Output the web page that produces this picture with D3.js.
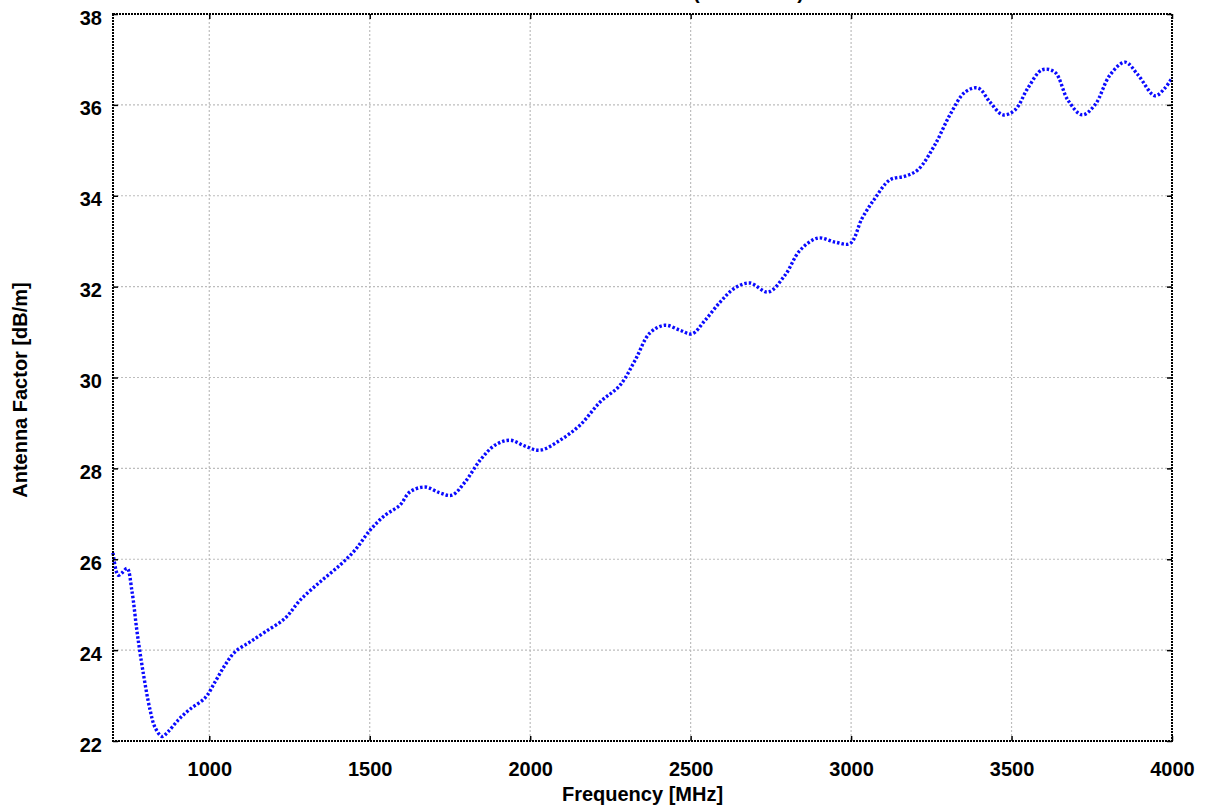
<!DOCTYPE html>
<html>
<head>
<meta charset="utf-8">
<style>
  body { margin: 0; background: #fff; }
  svg text { font-family: "Liberation Sans", Arial, sans-serif; font-weight: bold; fill: #000; }
  .grid line { stroke: #bdbdbd; stroke-width: 1.2; stroke-dasharray: 2,2; }
</style>
</head>
<body>
<svg width="1207" height="807"></svg>
<script src="https://d3js.org/d3.v7.min.js"></script>
<script>
// frequency [MHz] and antenna factor [dB/m]
var freq = [700, 716, 728, 744, 759, 775, 793, 815, 831, 853, 871, 903, 940, 987, 1018, 1049, 1080, 1127,
  1174, 1236, 1283, 1345, 1407, 1454, 1501, 1548, 1594, 1625, 1672, 1719, 1756, 1797, 1844, 1890, 1937,
  1984, 2031, 2093, 2155, 2218, 2280, 2327, 2373, 2420, 2467, 2504, 2545, 2592, 2638, 2685, 2741, 2794,
  2841, 2897, 2950, 2997, 3034, 3075, 3121, 3168, 3208, 3261, 3308, 3355, 3396, 3433, 3473, 3511, 3551,
  3595, 3635, 3676, 3720, 3760, 3807, 3854, 3894, 3947, 3978, 4000];
var af = [26.14, 25.65, 25.7, 25.8, 25.3, 24.4, 23.55, 22.7, 22.3, 22.1, 22.2, 22.46, 22.7, 22.95, 23.3,
  23.67, 23.96, 24.18, 24.4, 24.7, 25.1, 25.5, 25.87, 26.2, 26.64, 26.97, 27.19, 27.48, 27.59, 27.46,
  27.41, 27.7, 28.18, 28.51, 28.62, 28.49, 28.4, 28.62, 28.95, 29.46, 29.83, 30.38, 30.98, 31.15, 31.04,
  30.96, 31.26, 31.66, 31.97, 32.08, 31.88, 32.25, 32.8, 33.07, 32.98, 32.95, 33.5, 33.95, 34.35, 34.43,
  34.57, 35.12, 35.78, 36.28, 36.37, 36.06, 35.78, 35.89, 36.37, 36.77, 36.72, 36.1, 35.78, 36.0, 36.66,
  36.94, 36.66, 36.2, 36.37, 36.59];
var xTicks = [1000, 1500, 2000, 2500, 3000, 3500, 4000];
var yTicks = [22, 24, 26, 28, 30, 32, 34, 36, 38];

var svg = d3.select("svg"),
    margin = {top: 14, right: 35, bottom: 66, left: 113},
    width = 1207 - margin.left - margin.right,
    height = 807 - margin.top - margin.bottom,
    g = svg.append("g").attr("transform", "translate(" + margin.left + "," + margin.top + ")");

var x = d3.scaleLinear().domain([700, 4000]).range([0, width]);
var y = d3.scaleLinear().domain([22, 38]).range([height, 0]);

// grid
g.append("g").attr("class", "grid")
  .selectAll("line").data(xTicks.slice(0, -1)).enter().append("line")
  .attr("x1", d => x(d)).attr("x2", d => x(d)).attr("y1", 0).attr("y2", height);
g.append("g").attr("class", "grid")
  .selectAll("line").data(yTicks.slice(1, -1)).enter().append("line")
  .attr("x1", 0).attr("x2", width).attr("y1", d => y(d)).attr("y2", d => y(d));

// curve
var data = freq.map((f, i) => [f, af[i]]);
var line = d3.line().x(d => x(d[0])).y(d => y(d[1])).curve(d3.curveCatmullRom);
g.append("path").datum(data)
  .attr("d", line)
  .attr("fill", "none")
  .attr("stroke", "#0a0aff")
  .attr("stroke-width", 3.4)
  .attr("stroke-dasharray", "2.5,2");

// axes with inward ticks, labels
var fmt = d3.format("d");
var xb = g.append("g").attr("transform", "translate(0," + height + ")")
  .call(d3.axisBottom(x).tickValues(xTicks).tickSize(-5).tickPadding(21).tickFormat(fmt));
var xt = g.append("g").call(d3.axisTop(x).tickValues(xTicks).tickSize(-5).tickFormat(""));
var yl = g.append("g").call(d3.axisLeft(y).tickValues(yTicks).tickSize(-5).tickPadding(11).tickFormat(fmt));
var yr = g.append("g").attr("transform", "translate(" + width + ",0)")
  .call(d3.axisRight(y).tickValues(yTicks).tickSize(-5).tickFormat(""));
[xb, xt, yl, yr].forEach(a => {
  a.select(".domain").remove();
  a.selectAll(".tick line").attr("stroke", "#000").attr("stroke-width", 1.5);
  a.selectAll("text").style("font-size", "20px").attr("fill", "#000");
});
yl.selectAll("text").attr("dy", "0.5em");

// frame
g.append("rect").attr("width", width).attr("height", height)
  .attr("fill", "none").attr("stroke", "#000").attr("stroke-width", 2)
  .attr("stroke-dasharray", "2,1");

// titles (top title sits mostly above the page edge, as in the original)
svg.append("text").attr("x", 804).attr("y", -1).attr("text-anchor", "end")
  .style("font-size", "20px").text("Antenna Factor (Horizontal)");
svg.append("text").attr("x", margin.left + width / 2).attr("y", 801).attr("text-anchor", "middle")
  .style("font-size", "20px").text("Frequency [MHz]");
svg.append("text").attr("transform", "translate(27,390) rotate(-90)")
  .attr("text-anchor", "middle").style("font-size", "20px").text("Antenna Factor [dB/m]");
</script>
</body>
</html>
